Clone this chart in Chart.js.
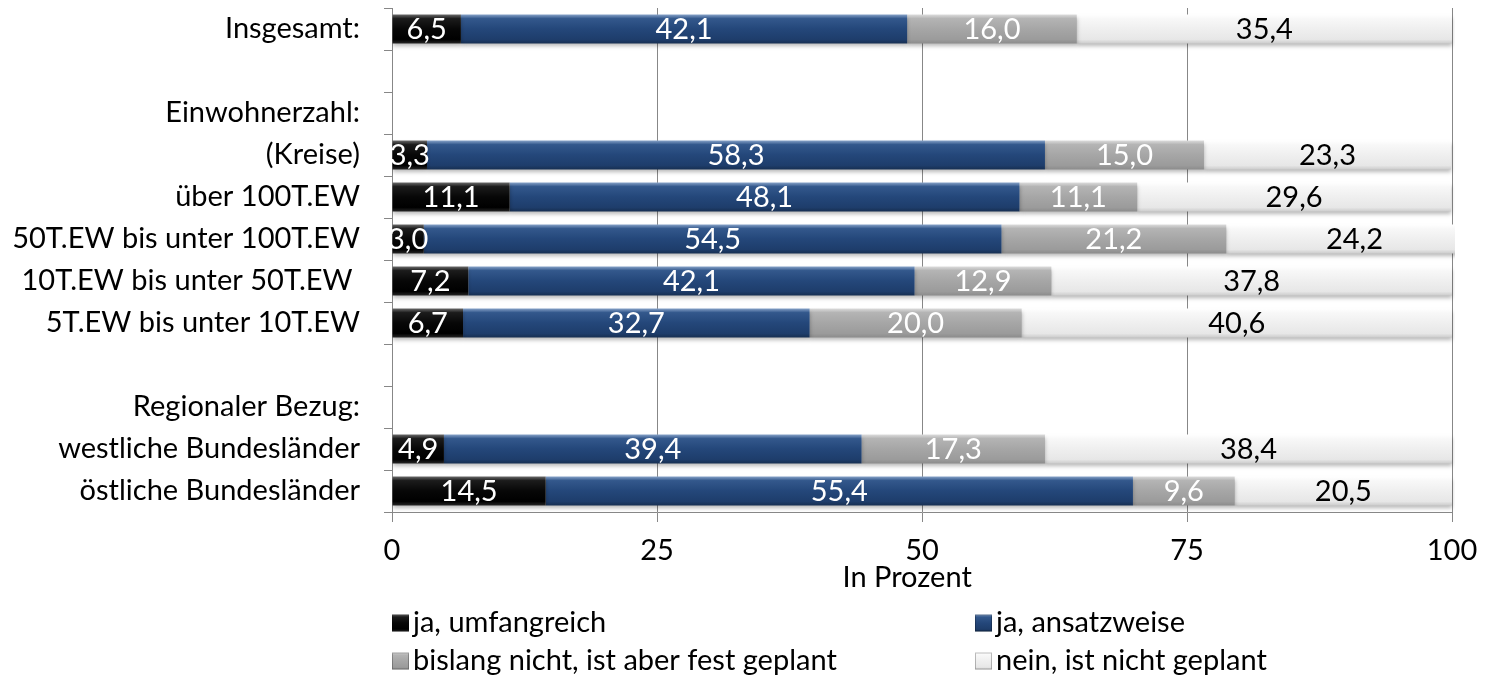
<!DOCTYPE html>
<html lang="de">
<head>
<meta charset="utf-8">
<title>Umsetzung nach Einwohnerzahl und Region</title>
<script src="https://cdn.jsdelivr.net/npm/chart.js@4/dist/chart.umd.min.js"></script>
<style>
  html, body { margin: 0; padding: 0; background: #ffffff; }
  #wrap { position: relative; width: 1488px; height: 677px; }
</style>
</head>
<body>
<div id="wrap"><canvas id="chart"></canvas></div>
<script>
// Kategorien (leere Einträge sind Abstandszeilen)
const categories = [
  'Insgesamt:',
  '',
  'Einwohnerzahl:',
  '(Kreise)',
  'über 100T.EW',
  '50T.EW bis unter 100T.EW',
  '10T.EW bis unter 50T.EW ',
  '5T.EW bis unter 10T.EW',
  '',
  'Regionaler Bezug:',
  'westliche Bundesländer',
  'östliche Bundesländer'
];

const seriesNames = [
  'ja, umfangreich',
  'ja, ansatzweise',
  'bislang nicht, ist aber fest geplant',
  'nein, ist nicht geplant'
];

// Anteile in Prozent je Kategorie
const jaUmfangreich   = [6.5, null, null, 3.3, 11.1, 3.0, 7.2, 6.7, null, null, 4.9, 14.5];
const jaAnsatzweise   = [42.1, null, null, 58.3, 48.1, 54.5, 42.1, 32.7, null, null, 39.4, 55.4];
const festGeplant     = [16.0, null, null, 15.0, 11.1, 21.2, 12.9, 20.0, null, null, 17.3, 9.6];
const nichtGeplant    = [35.4, null, null, 23.3, 29.6, 24.2, 37.8, 40.6, null, null, 38.4, 20.5];

const xTicks = [0, 25, 50, 75, 100];
const axisTitle = 'In Prozent    ';

const FONT = 'Lato';
const FS = 29;
const BAR_FRACTION = 0.69;

// Verlaufsfarben (oben -> unten) für die plastische Balkenoptik
const gradientStops = [
  ['#6a6a6a', '#1c1c1c', '#070707', '#000000', '#262626'],
  ['#86a2c8', '#33588c', '#24477a', '#1e3d6b', '#172f52'],
  ['#dcdcdc', '#b4b4b4', '#a6a6a6', '#9b9b9b', '#8c8c8c'],
  ['#ffffff', '#f8f8f8', '#efefef', '#e7e7e7', '#cccccc']
];
const flatColors = ['#0a0a0a', '#24477a', '#a6a6a6', '#efefef'];
const labelColors = ['#ffffff', '#ffffff', '#ffffff', '#000000'];

function makeGradient(ctx, top, bottom, stops) {
  const g = ctx.createLinearGradient(0, top, 0, bottom);
  const pos = [0, 0.14, 0.5, 0.86, 1];
  stops.forEach((c, i) => g.addColorStop(pos[i], c));
  return g;
}

function barFill(seriesIndex) {
  return function (context) {
    const chart = context.chart;
    const yScale = chart.scales && chart.scales.y;
    if (!chart.chartArea || !yScale || context.dataIndex === undefined) {
      return flatColors[seriesIndex];
    }
    const band = yScale.height / categories.length;
    const cy = yScale.getPixelForValue(context.dataIndex);
    const h = band * BAR_FRACTION;
    return makeGradient(chart.ctx, cy - h / 2, cy + h / 2, gradientStops[seriesIndex]);
  };
}

const seriesValues = [jaUmfangreich, jaAnsatzweise, festGeplant, nichtGeplant];

const datasets = seriesValues.map((vals, i) => ({
  label: seriesNames[i],
  data: vals,
  backgroundColor: barFill(i),
  borderWidth: 0,
  barPercentage: BAR_FRACTION,
  categoryPercentage: 1,
  clip: { left: 0, top: 6, right: 3, bottom: 6 }
}));

// weicher Schatten unter den Balken
const barShadow = {
  id: 'barShadow',
  beforeDatasetsDraw(chart) {
    const ctx = chart.ctx;
    ctx.save();
    ctx.shadowColor = 'rgba(0,0,0,0.28)';
    ctx.shadowBlur = 4;
    ctx.shadowOffsetX = 0;
    ctx.shadowOffsetY = 3;
  },
  afterDatasetsDraw(chart) {
    chart.ctx.restore();
  }
};

// Zahlenwerte mittig in den Segmenten
const valueLabels = {
  id: 'valueLabels',
  afterDatasetsDraw(chart) {
    const ctx = chart.ctx;
    const area = chart.chartArea;
    ctx.save();
    ctx.beginPath();
    ctx.rect(area.left, area.top, area.right - area.left + 3, area.bottom - area.top);
    ctx.clip();
    ctx.font = FS + 'px ' + FONT;
    ctx.textAlign = 'center';
    ctx.textBaseline = 'middle';
    chart.data.datasets.forEach((ds, di) => {
      const meta = chart.getDatasetMeta(di);
      meta.data.forEach((el, idx) => {
        const v = ds.data[idx];
        if (v === null || v === undefined) return;
        const cx = (el.x + el.base) / 2;
        ctx.fillStyle = labelColors[di];
        ctx.fillText(v.toFixed(1).replace('.', ','), cx, el.y + 1);
      });
    });
    ctx.restore();
  }
};

// Legende in zwei Spalten unter dem Diagramm
const gridLegend = {
  id: 'gridLegend',
  afterDraw(chart) {
    const ctx = chart.ctx;
    const area = chart.chartArea;
    const colX = [area.left, area.left + (area.right - area.left) * 0.55];
    const rowY = [623, 661];
    const box = 17;
    ctx.save();
    ctx.font = FS + 'px ' + FONT;
    ctx.textAlign = 'left';
    ctx.textBaseline = 'middle';
    chart.data.datasets.forEach((ds, i) => {
      const x = colX[i % 2];
      const y = rowY[Math.floor(i / 2)];
      ctx.fillStyle = makeGradient(ctx, y - box / 2, y + box / 2, gradientStops[i]);
      ctx.fillRect(x, y - box / 2, box, box);
      ctx.strokeStyle = 'rgba(0,0,0,0.25)';
      ctx.lineWidth = 1;
      ctx.strokeRect(x + 0.5, y - box / 2 + 0.5, box - 1, box - 1);
      ctx.fillStyle = '#000000';
      ctx.fillText(ds.label, x + box + 4, y);
    });
    ctx.restore();
  }
};

Chart.defaults.font.family = FONT;
Chart.defaults.font.size = FS;
Chart.defaults.color = '#000000';

new Chart(document.getElementById('chart'), {
  type: 'bar',
  data: { labels: categories, datasets },
  options: {
    indexAxis: 'y',
    responsive: true,
    maintainAspectRatio: false,
    animation: false,
    layout: { padding: { top: 8, right: 36, left: 0, bottom: 0 } },
    plugins: {
      legend: { display: false },
      tooltip: { enabled: false }
    },
    scales: {
      x: {
        stacked: true,
        min: 0,
        max: 100,
        afterBuildTicks(scale) {
          scale.ticks = xTicks.map(v => ({ value: v }));
        },
        afterFit(scale) {
          scale.height = 165;
          scale.paddingLeft = 0;
          scale.paddingRight = 0;
        },
        grid: {
          color: '#878787',
          lineWidth: 1,
          tickLength: 10,
          drawTicks: true
        },
        border: { display: true, color: '#878787', width: 1 },
        ticks: { padding: 11, font: { size: FS }, color: '#000000' },
        title: {
          display: true,
          text: axisTitle,
          font: { size: FS },
          color: '#000000',
          padding: { top: 0, bottom: 82 }
        }
      },
      y: {
        stacked: true,
        afterFit(scale) {
          scale.width = 392;
          scale.paddingTop = 0;
          scale.paddingBottom = 0;
        },
        grid: {
          offset: true,
          drawOnChartArea: false,
          drawTicks: true,
          tickLength: 8,
          color: '#878787'
        },
        border: { display: true, color: '#878787', width: 1 },
        ticks: { padding: 24, font: { size: FS }, color: '#000000', autoSkip: false }
      }
    }
  },
  plugins: [barShadow, valueLabels, gridLegend]
});
</script>
</body>
</html>
